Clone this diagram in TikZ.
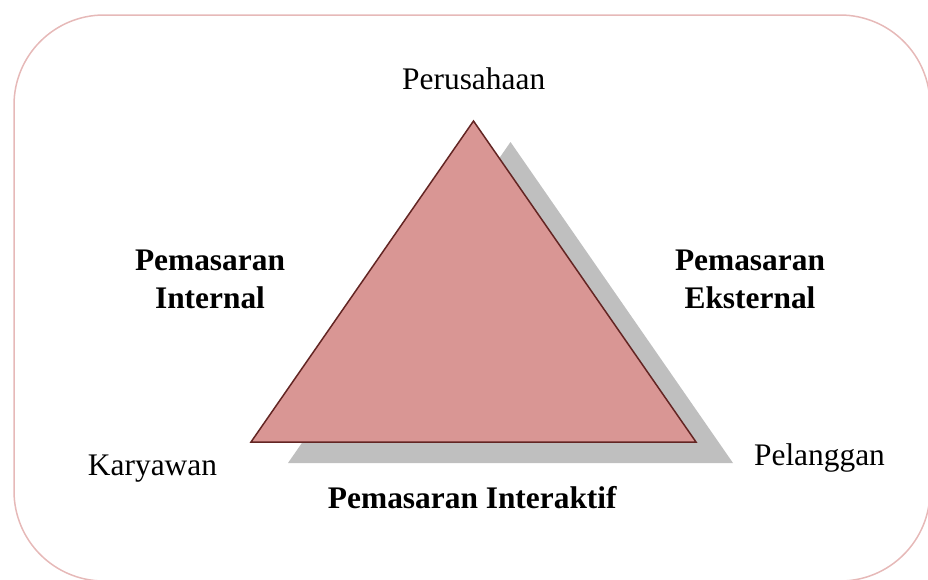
\documentclass[tikz,border=0pt]{standalone}
\usepackage{fontspec}
\setmainfont{Liberation Serif}
\definecolor{frame}{HTML}{E6B9B8}
\definecolor{trifill}{HTML}{D99694}
\definecolor{tridraw}{HTML}{632523}
\definecolor{shadowgray}{HTML}{BFBFBF}
\tikzset{
  lbl/.style={anchor=base, inner sep=0pt, font=\fontsize{31.4}{37.7}\selectfont},
  blbl/.style={lbl, font=\fontsize{31.4}{37.7}\selectfont\bfseries},
}
\begin{document}
\begin{tikzpicture}[x=1pt,y=-1pt]
\useasboundingbox (0,0) rectangle (928,579);
\clip (0,0) rectangle (928,579);
% frame
\draw[frame, line width=1.5pt, rounded corners=90pt] (14,15) rectangle (930,581);
% triangle corners
\coordinate (top) at (473.5,121);
\coordinate (bl) at (251,442);
\coordinate (br) at (696,442);
% shadow
\fill[shadowgray] ([shift={(37,21)}]top) -- ([shift={(37,21)}]bl) -- ([shift={(37,21)}]br) -- cycle;
% triangle
\filldraw[fill=trifill, draw=tridraw, line width=1.5pt, line join=miter] (top) -- (bl) -- (br) -- cycle;
% labels
\node[lbl] (perusahaan) at (473.7,89.3) {Perusahaan};
\node[lbl] (karyawan) at (152.5,475) {Karyawan};
\node[lbl] (pelanggan) at (819.5,465.7) {Pelanggan};
\node[blbl] (int1) at (210,270) {Pemasaran};
\node[blbl] (int2) at (210,308) {Internal};
\node[blbl] (eks1) at (750,270) {Pemasaran};
\node[blbl] (eks2) at (750,308) {Eksternal};
\node[blbl] (inter) at (472.3,508.3) {Pemasaran Interaktif};
\end{tikzpicture}
\end{document}
